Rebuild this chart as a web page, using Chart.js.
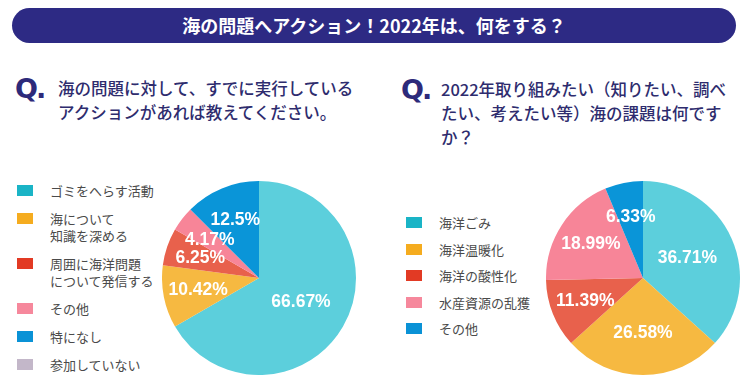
<!DOCTYPE html>
<html lang="ja">
<head>
<meta charset="utf-8">
<script src="https://cdn.jsdelivr.net/npm/chart.js@4"></script>
<style>
  body { margin: 0; background: #fff; font-family: "Noto Sans CJK JP", sans-serif; }
  #page { position: relative; width: 746px; height: 381px; overflow: hidden; }
  .title {
    position: absolute; left: 12px; top: 8px; width: 724px; height: 35px;
    border-radius: 18px; background: #2d2a84; color: #fff;
    font-size: 18px; font-weight: 700; line-height: 35px; text-align: center;
  }
  .q { position: absolute; font-family: "DejaVu Sans", sans-serif; font-weight: 900;
       font-size: 27px; line-height: 30px; color: #2d2a7a; letter-spacing: -2px; }
  .qtext { position: absolute; font-size: 16.5px; line-height: 24px; color: #2e2c6e;
           font-weight: 500; white-space: nowrap; }
  .legend { position: absolute; font-size: 13px; color: #4a4a4a; }
  .legend .item { display: flex; align-items: flex-start; }
  .legend .box { width: 16px; height: 11px; flex: none; }
  .legend .txt { white-space: pre-line; }
  canvas { position: absolute; }
</style>
</head>
<body>
<div id="page">
  <div class="title">海の問題へアクション！2022年は、何をする？</div>

  <div class="q" style="left:15px; top:74px;">Q.</div>
  <div class="qtext" style="left:58px; top:76px;">海の問題に対して、すでに実行している<br>アクションがあれば教えてください。</div>

  <div class="q" style="left:401px; top:75px;">Q.</div>
  <div class="qtext" style="left:441px; top:77px;">2022年取り組みたい（知りたい、調べ<br>たい、考えたい等）海の課題は何です<br>か？</div>

  <div class="legend" id="legendLeft" style="left:17px; top:182px;"></div>
  <div class="legend" id="legendRight" style="left:406px; top:214px;"></div>

  <div style="position:absolute; left:162px; top:181px; width:194px; height:194px;">
    <canvas id="pieLeft"></canvas>
  </div>
  <div style="position:absolute; left:546px; top:181px; width:194px; height:194px;">
    <canvas id="pieRight"></canvas>
  </div>
</div>

<script>
// 左: すでに実行しているアクション
const leftLabels = ['ゴミをへらす活動', '海について\n知識を深める', '周囲に海洋問題\nについて発信する', 'その他', '特になし', '参加していない'];
const leftValues = [66.67, 10.42, 6.25, 4.17, 12.5, 0];

// 右: 2022年取り組みたい海の課題
const rightLabels = ['海洋ごみ', '海洋温暖化', '海洋の酸性化', '水産資源の乱獲', 'その他'];
const rightValues = [36.71, 26.58, 11.39, 18.99, 6.33];

const pieColors = ['#5ccfdc', '#f6b941', '#e8614c', '#f78598', '#0a95d8', '#c3b7c9'];
const legendColors = ['#1ab4c6', '#f5ac1f', '#e23a24', '#f6889c', '#0a92d6', '#c3b7c9'];

function buildLegend(el, labels, gap, lineHeight) {
  labels.forEach((lab, i) => {
    const item = document.createElement('div');
    item.className = 'item';
    item.style.marginBottom = gap + 'px';
    item.style.lineHeight = lineHeight + 'px';
    const box = document.createElement('span');
    box.className = 'box';
    box.style.background = legendColors[i];
    box.style.marginTop = ((lineHeight - 11) / 2) + 'px';
    box.style.marginRight = '17px';
    const txt = document.createElement('span');
    txt.className = 'txt';
    txt.textContent = lab;
    item.appendChild(box);
    item.appendChild(txt);
    el.appendChild(item);
  });
}

buildLegend(document.getElementById('legendLeft'), leftLabels, 11, 17);
buildLegend(document.getElementById('legendRight'), rightLabels, 9.5, 17);

// slice labels, drawn from each arc's geometry
const pctLabels = {
  id: 'pctLabels',
  afterDatasetsDraw(chart) {
    const ctx = chart.ctx;
    const meta = chart.getDatasetMeta(0);
    const data = chart.data.datasets[0].data;
    ctx.save();
    ctx.fillStyle = '#fff';
    ctx.font = 'bold 17.5px "Liberation Sans", Arial, sans-serif';
    ctx.textAlign = 'center';
    ctx.textBaseline = 'middle';
    meta.data.forEach((arc, i) => {
      if (!data[i]) return;
      const p = arc.getProps(['x', 'y', 'startAngle', 'endAngle', 'outerRadius']);
      const mid = (p.startAngle + p.endAngle) / 2;
      const f = data[i] > 30 ? 0.5 : data[i] > 20 ? 0.57 : 0.64;
      const r = p.outerRadius * f;
      ctx.fillText(data[i] + '%', p.x + Math.cos(mid) * r, p.y + Math.sin(mid) * r);
    });
    ctx.restore();
  }
};

function makePie(id, labels, values) {
  new Chart(document.getElementById(id), {
    type: 'pie',
    data: {
      labels: labels,
      datasets: [{
        data: values,
        backgroundColor: pieColors.slice(0, values.length),
        borderWidth: 0
      }]
    },
    options: {
      responsive: true,
      maintainAspectRatio: false,
      animation: false,
      layout: { padding: 0 },
      plugins: {
        legend: { display: false },
        tooltip: { enabled: false }
      }
    },
    plugins: [pctLabels]
  });
}

makePie('pieLeft', leftLabels, leftValues);
makePie('pieRight', rightLabels, rightValues);
</script>
</body>
</html>
